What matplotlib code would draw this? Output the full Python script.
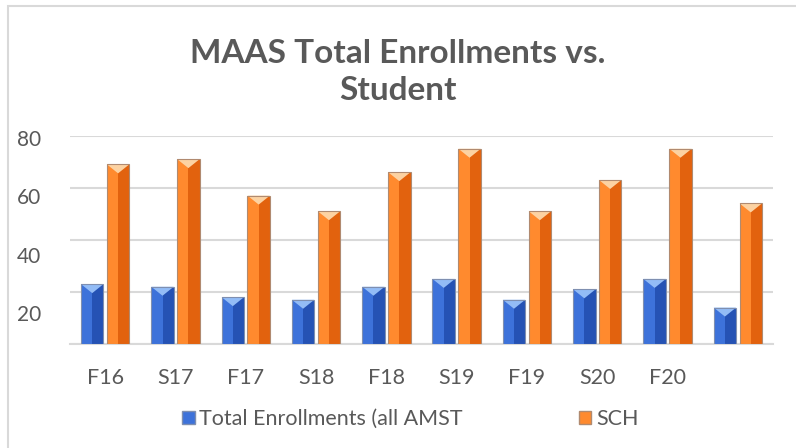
import matplotlib
matplotlib.use("Agg")
import matplotlib.pyplot as plt
import matplotlib.transforms as mtransforms
from matplotlib.patches import Rectangle, Polygon, Patch
import numpy as np

categories = ["F16", "S17", "F17", "S18", "F18", "S19", "F19", "S20", "F20", ""]
total_enrollments = [23, 22, 18, 17, 22, 25, 17, 21, 25, 14]
sch = [69, 71, 57, 51, 66, 75, 51, 63, 75, 54]
series_names = ["Total Enrollments (all AMST", "SCH"]
y_ticks = [20, 40, 60, 80]
title = "MAAS Total Enrollments vs.\nStudent"

W, H = 796, 448
fig = plt.figure(figsize=(W / 100, H / 100), dpi=100)
plt.rcParams['font.family'] = ['Lato', 'DejaVu Sans']
TXT = '#595959'
GRID = '#d9d9d9'

# outer chart frame (left and top edges visible)
fig.patches.append(Rectangle((8 / W, -0.1), 1.2, 1.1 - 6 / H, transform=fig.transFigure,
                             fill=False, edgecolor=GRID, linewidth=1.5, zorder=0))

ax_l, ax_r, ax_b, ax_t = 70, 773, 344, 135.7
ax = fig.add_axes([ax_l / W, 1 - ax_b / H, (ax_r - ax_l) / W, (ax_b - ax_t) / H])
ax.set_xlim(-0.5, len(categories) - 0.5)
ax.set_ylim(0, 80)

x = np.arange(len(categories))
bw = 0.32
gap = 0.048
off = (bw + gap) / 2

px_per_unit = (ax_b - ax_t) / 80.0
tri_h = 9 / px_per_unit

styles = [
    dict(left='#3d72da', right='#2552b4', top='#93bcf6', edge='#7f8fb0'),
    dict(left='#ff8a2e', right='#e2620e', top='#fcd2a2', edge='#b08a70'),
]

for vals, sgn, st in [(total_enrollments, -1, styles[0]), (sch, 1, styles[1])]:
    centers = x + sgn * off
    ax.bar(centers - bw / 4, vals, width=bw / 2, color=st['left'], linewidth=0, zorder=3)
    ax.bar(centers + bw / 4, vals, width=bw / 2, color=st['right'], linewidth=0, zorder=3)
    ax.bar(centers, vals, width=bw, fill=False, edgecolor=st['edge'], linewidth=0.8, zorder=5)
    for c, v in zip(centers, vals):
        ax.add_patch(Polygon([(c - bw / 2, v), (c + bw / 2, v), (c, v - tri_h)],
                             closed=True, facecolor=st['top'], edgecolor='none', zorder=4))

ax.set_yticks([0] + y_ticks)
ax.set_yticklabels([""] + [str(t) for t in y_ticks])
ax.yaxis.grid(True, color=GRID, linewidth=1.5, zorder=0)
ax.set_axisbelow(True)
ax.set_xticks(x)
ax.set_xticklabels(categories)
ax.tick_params(axis='both', length=0, colors=TXT)
ax.tick_params(axis='y', pad=21, labelsize=15)
ax.tick_params(axis='x', pad=17, labelsize=15.5)
for sp in ['top', 'right', 'left']:
    ax.spines[sp].set_visible(False)
ax.spines['bottom'].set_color(GRID)
ax.spines['bottom'].set_linewidth(1.5)

# y labels drift downward in the reference
for i, lab in enumerate(ax.get_yticklabels()[1:]):
    k = len(y_ticks) - i  # 20 -> 4 ... 80 -> 1
    dy = -(2.3 + 6.2 * (k - 1))
    lab.set_transform(lab.get_transform() + mtransforms.ScaledTranslation(0, dy / 100, fig.dpi_scale_trans))

fig.text(0.5, 1 - 72 / H, title, ha='center', va='center', fontsize=24, fontweight='bold',
         color=TXT, linespacing=1.3)

handles = [Patch(facecolor=styles[0]['left'], edgecolor=styles[0]['edge']),
           Patch(facecolor=styles[1]['left'], edgecolor=styles[1]['edge'])]
fig.legend(handles, series_names, loc='center', bbox_to_anchor=(0.515, 1 - 419 / H), ncol=2,
           frameon=False, fontsize=15.5, labelcolor=TXT, handlelength=0.6, handleheight=0.6,
           handletextpad=0.2, columnspacing=5.4)

fig.savefig("out.png", dpi=100, facecolor='white')
